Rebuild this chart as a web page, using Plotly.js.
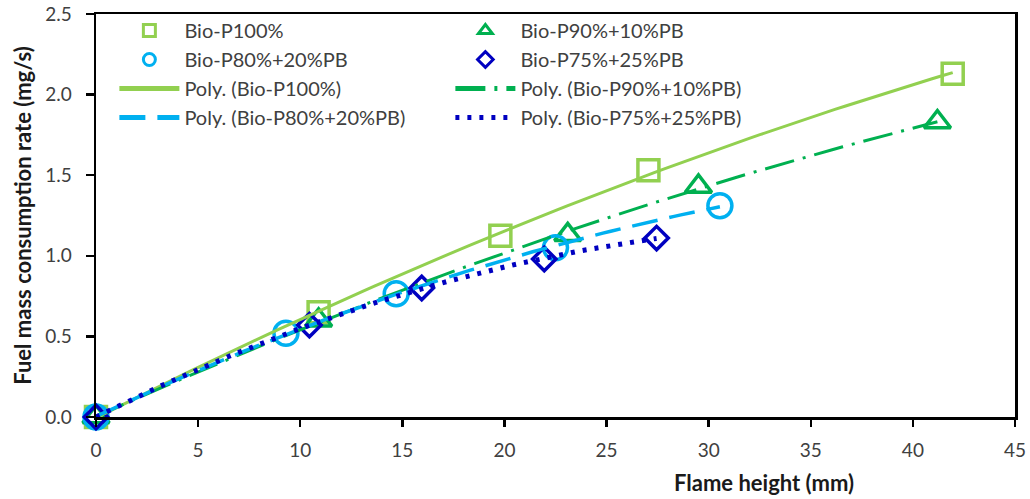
<!DOCTYPE html>
<html>
<head>
<meta charset="utf-8">
<script src="https://cdn.plot.ly/plotly-3.0.1.min.js"></script>
<style>html,body{margin:0;padding:0;background:#fff;}#chart{width:1030px;height:499px;}</style>
</head>
<body>
<div id="chart"></div>
<script>
// Data
const seriesNames = ["Bio-P100%", "Bio-P90%+10%PB", "Bio-P80%+20%PB", "Bio-P75%+25%PB"];
const x100 = [0, 10.9, 19.8, 27.05, 41.95];
const y100 = [0, 0.65, 1.125, 1.53, 2.13];
const x90 = [0, 10.9, 23.1, 29.5, 41.2];
const y90 = [0, 0.60, 1.13, 1.43, 1.83];
const x80 = [0, 9.3, 14.7, 22.5, 30.55];
const y80 = [0, 0.52, 0.765, 1.05, 1.31];
const x75 = [0, 10.45, 15.95, 21.95, 27.45];
const y75 = [0, 0.57, 0.80, 0.98, 1.11];
const xTickVals = [0, 5, 10, 15, 20, 25, 30, 35, 40, 45];
const yTickVals = [0, 0.5, 1.0, 1.5, 2.0, 2.5];

// Styles
const colors = ["#92D050", "#00B050", "#00B0F0", "#0000C0"];
const symbols = ["square-open", "triangle-up-open", "circle-open", "diamond-open"];
const sizes = [21, 23, 24, 18];
const dashes = ["solid", "30px,9px,3px,9px", "26px,12px", "4px,8px"];
const widths = [3, 3, 3.5, 5];
const xs = [x100, x90, x80, x75];
const ys = [y100, y90, y80, y75];

// Excel-style polynomial (order 2) trendline: least squares fit of the data
function polyFit2(x, y) {
  let S = [0,0,0,0,0], T = [0,0,0];
  for (let i = 0; i < x.length; i++) {
    let p = 1;
    for (let k = 0; k < 5; k++) { S[k] += p; if (k < 3) T[k] += p * y[i]; p *= x[i]; }
  }
  const A = [[S[0],S[1],S[2],T[0]],[S[1],S[2],S[3],T[1]],[S[2],S[3],S[4],T[2]]];
  for (let c = 0; c < 3; c++) {
    let piv = c;
    for (let r = c+1; r < 3; r++) if (Math.abs(A[r][c]) > Math.abs(A[piv][c])) piv = r;
    [A[c], A[piv]] = [A[piv], A[c]];
    for (let r = 0; r < 3; r++) {
      if (r === c) continue;
      const f = A[r][c] / A[c][c];
      for (let k = c; k < 4; k++) A[r][k] -= f * A[c][k];
    }
  }
  return [A[0][3]/A[0][0], A[1][3]/A[1][1], A[2][3]/A[2][2]];
}
function trend(x, y) {
  const c = polyFit2(x, y);
  const xmin = Math.min(...x), xmax = Math.max(...x);
  const tx = [], ty = [];
  const n = 80;
  for (let i = 0; i <= n; i++) {
    const xv = xmin + (xmax - xmin) * i / n;
    tx.push(xv); ty.push(c[0] + c[1]*xv + c[2]*xv*xv);
  }
  return {tx, ty};
}

const traces = [];
for (let i = 0; i < 4; i++) {
  traces.push({
    x: xs[i], y: ys[i], type: "scatter", mode: "markers", name: seriesNames[i],
    cliponaxis: false,
    marker: {symbol: symbols[i], size: sizes[i], color: colors[i], line: {color: colors[i], width: 3.5}}
  });
}
for (let i = 0; i < 4; i++) {
  const t = trend(xs[i], ys[i]);
  traces.push({
    x: t.tx, y: t.ty, type: "scatter", mode: "lines", name: "Poly. (" + seriesNames[i] + ")",
    cliponaxis: false,
    line: {color: colors[i], width: widths[i], dash: dashes[i]}
  });
}

const fontFam = "Lato, 'Open Sans', sans-serif";
const layout = {
  width: 1030, height: 499,
  margin: {l: 96, r: 15, t: 13, b: 82},
  paper_bgcolor: "#fff", plot_bgcolor: "#fff",
  font: {family: fontFam, color: "#404040"},
  showlegend: true,
  legend: {
    orientation: "h", x: 0.02, y: 1.005, xanchor: "left", yanchor: "top",
    bgcolor: "rgba(0,0,0,0)", font: {size: 20, color: "#404040", family: fontFam},
    entrywidth: 261, entrywidthmode: "pixels", itemwidth: 60, itemsizing: "constant",
    traceorder: "normal"
  },
  xaxis: {
    range: [0, 45], tickvals: xTickVals, ticktext: xTickVals.map(String),
    showgrid: false, zeroline: false, showline: true, linecolor: "#000", linewidth: 2.5,
    mirror: true, ticks: "outside", ticklen: 7, tickwidth: 2.5, tickcolor: "#000",
    ticklabelstandoff: 8,
    tickfont: {size: 19, color: "#404040", family: fontFam}
  },
  yaxis: {
    range: [0, 2.5], tickvals: yTickVals, ticktext: yTickVals.map(v => v.toFixed(1)),
    showgrid: false, zeroline: false, showline: true, linecolor: "#000", linewidth: 2.5,
    mirror: true, ticks: "outside", ticklen: 8, tickwidth: 2.5, tickcolor: "#000",
    ticklabelstandoff: 10,
    tickfont: {size: 19, color: "#404040", family: fontFam},
    title: {text: "Fuel mass consumption rate (mg/s)", standoff: 8,
            font: {size: 22, color: "#1a1a1a", family: fontFam, weight: "bold"}}
  },
  annotations: [{
    text: "Flame height (mm)", xref: "paper", yref: "paper", x: 0.727, y: -0.163,
    xanchor: "center", yanchor: "middle", showarrow: false,
    font: {size: 22, color: "#1a1a1a", family: fontFam, weight: "bold"}
  }]
};

Plotly.newPlot("chart", traces, layout, {displayModeBar: false, staticPlot: true}).then(function () {
  // thicker outlines for the legend marker symbols, as in the reference
  document.querySelectorAll(".legend .legendpoints path.scatterpts").forEach(function (p) {
    p.style.strokeWidth = "3px";
  });
});
</script>
</body>
</html>
